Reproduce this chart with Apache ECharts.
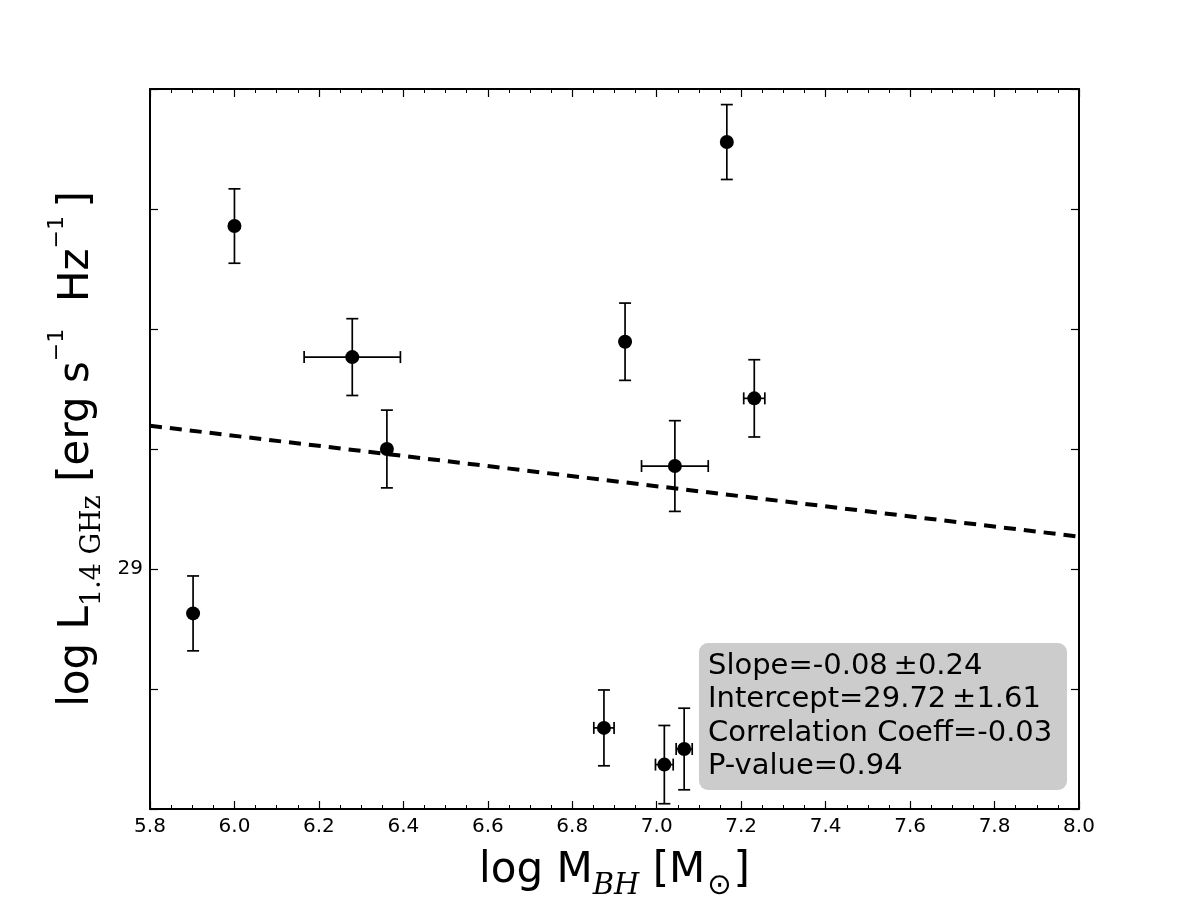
<!DOCTYPE html>
<html>
<head>
<meta charset="utf-8">
<script src="https://cdn.jsdelivr.net/npm/echarts@6/dist/echarts.min.js"></script>
<style>
  html, body { margin: 0; padding: 0; background: #fff; }
  #chart { width: 1200px; height: 900px; }
</style>
</head>
<body>
<div id="chart"></div>
<script>
// log M_BH and its error
var massBH    = [5.902, 6.000, 6.279, 6.361, 6.875, 6.925, 7.018, 7.043, 7.065, 7.166, 7.231];
var massErr   = [0,     0,     0.114, 0,     0.024, 0,     0.021, 0.079, 0.019, 0,     0.025];
// log L_1.4GHz and its error
var lum       = [28.815, 30.429, 29.883, 29.500, 28.338, 29.947, 28.185, 29.429, 28.250, 30.779, 29.711];
var lumErr    = [0.156,  0.155,  0.160,  0.162,  0.158,  0.161,  0.163,  0.189,  0.170,  0.156,  0.161];
// fitted line end points
var fitX = [5.8, 8.0];
var fitY = [29.597, 29.135];
// annotation lines
var statLines = [
  'Slope=-0.08\u2009\u00b10.24',
  'Intercept=29.72\u2009\u00b11.61',
  'Correlation Coeff=-0.03',
  'P-value=0.94'
];

var FONT = 'DejaVu Sans';

var points = massBH.map(function (m, i) { return [m, lum[i]]; });
var errData = massBH.map(function (m, i) { return [m, lum[i], massErr[i], lumErr[i]]; });
var fitData = fitX.map(function (x, i) { return [x, fitY[i]]; });

function renderErrorBar(params, api) {
  var x = api.value(0), y = api.value(1), ex = api.value(2), ey = api.value(3);
  var st = { stroke: '#000', lineWidth: 1.7 };
  var cap = 6;
  var kids = [];
  var top = api.coord([x, y + ey]), bot = api.coord([x, y - ey]);
  kids.push({ type: 'line', shape: { x1: top[0], y1: top[1], x2: bot[0], y2: bot[1] }, style: st });
  kids.push({ type: 'line', shape: { x1: top[0] - cap, y1: top[1], x2: top[0] + cap, y2: top[1] }, style: st });
  kids.push({ type: 'line', shape: { x1: bot[0] - cap, y1: bot[1], x2: bot[0] + cap, y2: bot[1] }, style: st });
  if (ex > 0) {
    var l = api.coord([x - ex, y]), r = api.coord([x + ex, y]);
    kids.push({ type: 'line', shape: { x1: l[0], y1: l[1], x2: r[0], y2: r[1] }, style: st });
    kids.push({ type: 'line', shape: { x1: l[0], y1: l[1] - cap, x2: l[0], y2: l[1] + cap }, style: st });
    kids.push({ type: 'line', shape: { x1: r[0], y1: r[1] - cap, x2: r[0], y2: r[1] + cap }, style: st });
  }
  return { type: 'group', children: kids };
}

var axisLine = { show: true, lineStyle: { color: '#000', width: 2 } };
var tick = { inside: true, length: 8, lineStyle: { color: '#000', width: 1.2 } };
var minor = { show: true, splitNumber: 4, length: 4, lineStyle: { color: '#000', width: 1 } };

var chart = echarts.init(document.getElementById('chart'));
chart.setOption({
  backgroundColor: '#fff',
  animation: false,
  grid: { left: 150, top: 89, right: 121, bottom: 91, containLabel: false, outerBoundsMode: 'none' },
  xAxis: [{
    type: 'value', min: 5.8, max: 8.0, interval: 0.2, position: 'bottom',
    axisLine: axisLine, axisTick: tick, minorTick: minor,
    axisLabel: { color: '#000', fontFamily: FONT, fontSize: 20, margin: 8,
      formatter: function (v) { return v.toFixed(1); } },
    splitLine: { show: false },
    name: '{a|log M}{sub|BH}{a| [M}{sun|\u2299}{a|]}',
    nameLocation: 'middle', nameGap: 32,
    nameTextStyle: {
      rich: {
        a: { fontFamily: FONT, fontSize: 42, lineHeight: 60, color: '#000' },
        sub: { fontFamily: 'DejaVu Serif', fontStyle: 'italic', fontSize: 29, lineHeight: 40, verticalAlign: 'bottom', color: '#000' },
        sun: { fontFamily: FONT, fontSize: 29, lineHeight: 16, verticalAlign: 'bottom', color: '#000', padding: [0, 2, 0, 2] }
      }
    }
  }, {
    type: 'value', min: 5.8, max: 8.0, interval: 0.2, position: 'top',
    axisLine: axisLine, axisTick: tick, minorTick: minor,
    axisLabel: { show: false },
    splitLine: { show: false }
  }],
  yAxis: [{
    type: 'value', min: 28, max: 31, interval: 0.5, position: 'left',
    axisLine: axisLine, axisTick: tick,
    axisLabel: { color: '#000', fontFamily: FONT, fontSize: 20, margin: 7,
      formatter: function (v) { return Math.abs(v - 29) < 1e-9 ? '29' : ''; } },
    splitLine: { show: false },
    name: '{a|log L}{sub|1.4 GHz}{a| [erg s}{sup|\u22121}{a|  Hz}{sup|\u22121}{a|\u2009]}',
    nameLocation: 'middle', nameGap: 33,
    nameTextStyle: {
      rich: {
        a: { fontFamily: FONT, fontSize: 42, lineHeight: 60, color: '#000' },
        sub: { fontFamily: 'DejaVu Serif', fontSize: 27, lineHeight: 26, verticalAlign: 'bottom', color: '#000' },
        sup: { fontFamily: FONT, fontSize: 22, lineHeight: 34, verticalAlign: 'top', color: '#000' }
      }
    }
  }, {
    type: 'value', min: 28, max: 31, interval: 0.5, position: 'right',
    axisLine: axisLine, axisTick: tick,
    axisLabel: { show: false },
    splitLine: { show: false }
  }],
  series: [{
    type: 'custom', name: 'errors', xAxisIndex: 0, yAxisIndex: 0,
    renderItem: renderErrorBar, data: errData, z: 1, silent: true,
    encode: { x: 0, y: 1 }
  }, {
    type: 'line', name: 'fit', xAxisIndex: 0, yAxisIndex: 0, data: fitData,
    showSymbol: false, symbol: 'none', z: 2,
    lineStyle: { color: '#000', width: 4, type: [12, 8] }
  }, {
    type: 'scatter', name: 'data', xAxisIndex: 0, yAxisIndex: 0, data: points,
    symbol: 'circle', symbolSize: 14, z: 3,
    itemStyle: { color: '#000', opacity: 1 }
  }],
  graphic: [{
    type: 'group', right: 133, bottom: 110,
    children: [{
      type: 'rect', shape: { x: 0, y: 0, width: 368, height: 147, r: 9 },
      style: { fill: '#cccccc' }
    }, {
      type: 'text', x: 9, y: 7,
      style: {
        text: statLines.join('\n'), fill: '#000',
        font: '29px "DejaVu Sans"', lineHeight: 33.3
      }
    }]
  }]
});
</script>
</body>
</html>
